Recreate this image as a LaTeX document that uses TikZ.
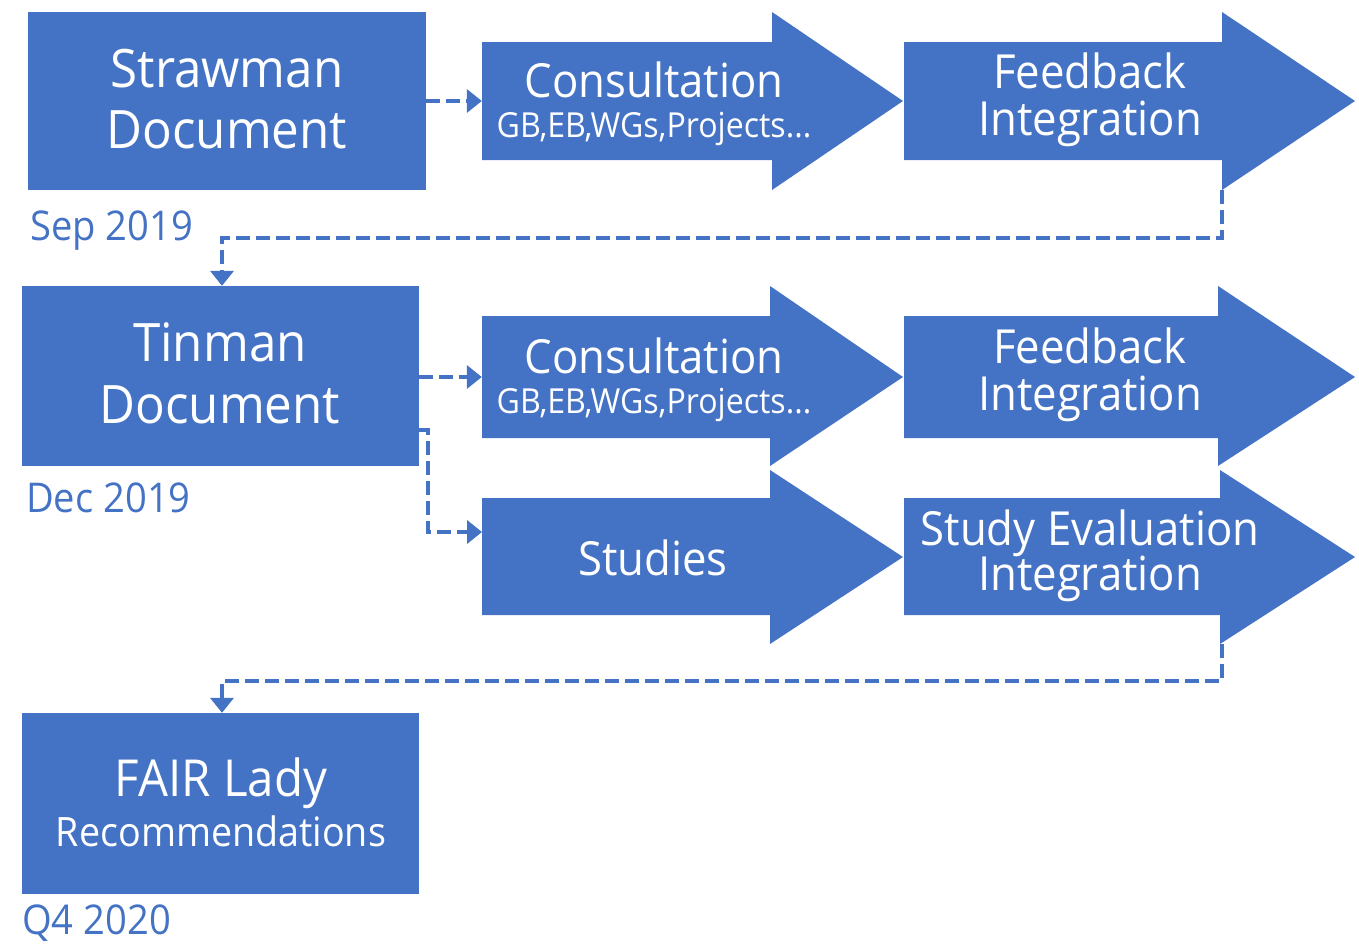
\documentclass[tikz,border=0pt]{standalone}
\usepackage{fontspec}
\setmainfont{Open Sans}[FakeStretch=0.93]
\usetikzlibrary{arrows.meta}
\definecolor{blu}{HTML}{4472C4}
\tikzset{
  blk/.style={fill=blu, draw=none},
  box/.style={fill=blu, draw=none, inner sep=0pt},
  shaft/.style={draw=none, inner sep=0pt},
  big/.style={text=white, inner sep=0pt, anchor=base, font=\fontsize{53}{60}\selectfont},
  mid/.style={text=white, inner sep=0pt, anchor=base, font=\fontsize{47}{52}\selectfont},
  small/.style={text=white, inner sep=0pt, anchor=base, font=\fontsize{34.5}{40}\selectfont},
  rec/.style={text=white, inner sep=0pt, anchor=base, font=\fontsize{40.5}{46}\selectfont},
  datelbl/.style={text=blu, inner sep=0pt, anchor=base west, font=\fontsize{41}{46}\selectfont},
  conn/.style={draw=blu, line width=4.5pt, dash pattern=on 14pt off 6pt,
    -{Triangle[length=15pt,width=23pt]}},
}
\begin{document}
\begin{tikzpicture}[x=1pt,y=-1pt]
\useasboundingbox (0,0) rectangle (1359,945);
% block arrows
\fill[blk] (482,42) -- (772,42) -- (772,12) -- (903,101) -- (772,190) -- (772,160) -- (482,160) -- cycle;
\fill[blk] (904,42) -- (1222,42) -- (1222,12) -- (1355,101) -- (1222,190) -- (1222,160) -- (904,160) -- cycle;
\fill[blk] (482,316) -- (770,316) -- (770,286) -- (903,377) -- (770,466) -- (770,438) -- (482,438) -- cycle;
\fill[blk] (904,316) -- (1218,316) -- (1218,286) -- (1355,377) -- (1218,466) -- (1218,438) -- (904,438) -- cycle;
\fill[blk] (482,498) -- (770,498) -- (770,470) -- (903,557) -- (770,644) -- (770,615) -- (482,615) -- cycle;
\fill[blk] (904,498) -- (1220,498) -- (1220,470) -- (1355,557) -- (1220,644) -- (1220,615) -- (904,615) -- cycle;
% shaft anchors
\node[shaft, minimum width=290pt, minimum height=118pt] (cons1) at (627,101) {};
\node[shaft, minimum width=318pt, minimum height=118pt] (fb1) at (1063,101) {};
\node[shaft, minimum width=288pt, minimum height=122pt] (cons2) at (626,377) {};
\node[shaft, minimum width=314pt, minimum height=122pt] (fb2) at (1061,377) {};
\node[shaft, minimum width=288pt, minimum height=117pt] (stud) at (626,557) {};
\node[shaft, minimum width=316pt, minimum height=117pt] (sev) at (1062,557) {};
% boxes
\node[box, minimum width=398pt, minimum height=178pt] (straw) at (227,101) {};
\node[box, minimum width=397pt, minimum height=180pt] (tin) at (220.5,376) {};
\node[box, minimum width=397pt, minimum height=181pt] (fair) at (220.5,803.5) {};
% texts
\node[big] (strawA) at (227,87) {Strawman};
\node[big] (strawB) at (227,148) {Document};
\node[big] (tinA) at (220,361) {Tinman};
\node[big] (tinB) at (220,423) {Document};
\node[big, font=\fontsize{51}{58}\selectfont] (fairA) at (221,796) {FAIR Lady};
\node[rec] (fairB) at (221,846) {Recommendations};
\node[mid] (cons1A) at (654,97) {Consultation};
\node[small] (cons1B) at (654,137) {GB,EB,WGs,Projects...};
\node[mid] (cons2A) at (654,373) {Consultation};
\node[small] (cons2B) at (654,413) {GB,EB,WGs,Projects...};
\node[mid] (fb1A) at (1090,88) {Feedback};
\node[mid] (fb1B) at (1090,135) {Integration};
\node[mid] (fb2A) at (1090,363) {Feedback};
\node[mid] (fb2B) at (1090,410) {Integration};
\node[mid] (studA) at (653,575) {Studies};
\node[mid] (sevA) at (1090,545) {Study Evaluation};
\node[mid] (sevB) at (1090,590) {Integration};
\node[datelbl] (d1) at (30,240) {Sep 2019};
\node[datelbl] (d2) at (26,512) {Dec 2019};
\node[datelbl] (d3) at (22,934) {Q4 2020};
% connectors
\coordinate (fb1tail) at (1222,190);
\coordinate (fb1turn) at (1222,238);
\coordinate (sevtail) at (1222,644);
\coordinate (sevturn) at (1222,681);
\coordinate (tinout) at (419,430);
\coordinate (tinbend) at (428,532);
\coordinate (studin) at (482,532);
\draw[conn] (straw.east) -- (cons1.west);
\draw[conn] (fb1tail) -- (fb1turn) -| ([xshift=1.5pt]tin.north);
\draw[conn] (tin.east |- cons2.west) -- (cons2.west);
\draw[conn] (tinout) -| (tinbend) -- (studin);
\draw[conn] (sevtail) -- (sevturn) -| ([xshift=1.5pt]fair.north);
\end{tikzpicture}
\end{document}
